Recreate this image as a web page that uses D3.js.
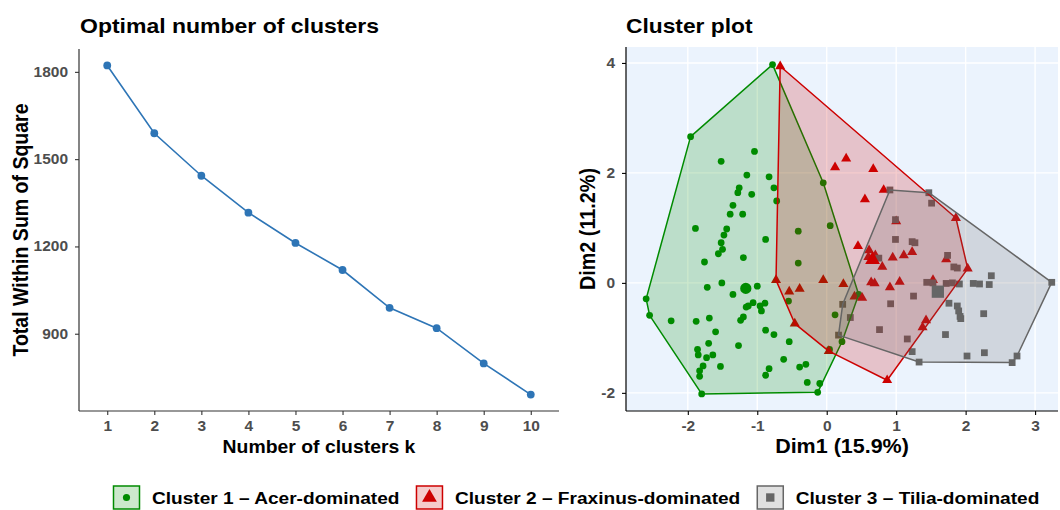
<!DOCTYPE html>
<html>
<head>
<meta charset="utf-8">
<script src="https://cdn.jsdelivr.net/npm/d3@7"></script>
<style>
  body { margin: 0; background: #fff; }
  svg { display: block; font-family: "Liberation Sans", Arial, sans-serif; }
</style>
</head>
<body>
<div id="chart"></div>
<script>
// ---- elbow plot data
var kValues = [1, 2, 3, 4, 5, 6, 7, 8, 9, 10];
var wss = [1822, 1589, 1443, 1316, 1212, 1119, 989, 919, 798, 691];
var wssTicks = [900, 1200, 1500, 1800];

// ---- cluster plot data (Dim1, Dim2)
var clusterNames = ["Cluster 1 \u2013 Acer-dominated", "Cluster 2 \u2013 Fraxinus-dominated", "Cluster 3 \u2013 Tilia-dominated"];
var dim1Ticks = [-2, -1, 0, 1, 2, 3];
var dim2Ticks = [-2, 0, 2, 4];

var cluster1 = [
  [-0.78,3.97],[-1.96,2.66],[-2.60,-0.29],[-2.55,-0.59],[-1.80,-2.02],[-0.13,-1.99],[-0.10,-1.83],
  [0.04,-1.21],[0.22,-1.07],[0.46,-0.21],[-0.05,1.82],
  [-1.04,2.39],[-1.52,2.21],[-1.15,1.96],[-0.83,1.93],[-1.26,1.73],[-1.28,1.64],[-1.08,1.61],
  [-0.76,1.73],[-0.72,1.49],[-1.35,1.41],[-1.39,1.25],[-1.21,1.25],[-1.89,0.99],[-1.44,0.98],
  [-1.48,0.87],[-0.88,0.79],[-1.52,0.73],[-1.50,0.61],[-1.56,0.53],[-1.76,0.38],[-1.20,0.46],
  [-0.41,0.94],[-0.41,0.36],[0.05,1.04],[-1.51,0.00],[-1.72,-0.08],[-1.00,-0.06],[-1.35,-0.21],
  [-1.06,-0.36],[-0.89,-0.37],[-1.13,-0.42],[-0.96,-0.42],[-0.94,-0.51],[-1.16,-0.44],[-1.20,-0.62],
  [-1.24,-0.68],[-0.55,-0.33],[0.12,-0.58],[-2.24,-0.69],[-1.88,-0.70],[-1.69,-0.64],[-1.60,-0.89],
  [-1.70,-1.10],[-1.86,-1.21],[-1.85,-1.31],[-1.73,-1.36],[-1.64,-1.31],[-1.78,-1.51],[-1.83,-1.60],
  [-1.83,-1.70],[-1.53,-1.52],[-1.27,-1.14],[-0.88,-0.86],[-0.76,-0.94],[-0.54,-1.07],[-0.62,-1.39],
  [-0.83,-1.56],[-0.88,-1.68],[-0.39,-1.53],[-0.30,-1.48],[-0.28,-1.81]
];
var cluster2 = [
  [-0.67,3.94],[1.86,1.18],[2.03,0.26],[1.43,-0.68],[1.38,-0.81],[0.87,-1.77],[0.03,-1.24],
  [-0.46,-0.74],[-0.73,0.05],
  [0.28,2.26],[0.12,2.10],[0.67,2.07],[0.82,1.69],[0.55,1.52],[1.00,1.12],[0.45,0.67],[0.61,0.59],
  [0.80,0.29],[0.95,0.46],[1.11,0.50],[1.23,0.56],[1.72,0.43],[1.53,0.05],[1.05,0.02],[0.91,-0.08],
  [0.64,0.01],[0.69,-0.01],[0.24,-0.02],[-0.05,0.05],[-0.39,-0.11],[-0.54,-0.16],[0.51,-0.27],
  [0.40,-0.25],[0.60,0.47],[0.70,0.50]
];
var cluster3 = [
  [0.91,1.69],[1.47,1.64],[3.24,0.01],[2.74,-1.33],[2.67,-1.45],[1.33,-1.44],[0.17,-0.95],[0.23,-0.39],
  [1.51,1.45],[0.99,1.15],[0.99,0.79],[1.23,0.75],[1.27,0.73],[0.75,0.45],[1.74,0.50],[1.83,0.29],
  [1.88,0.27],[1.44,0.01],[1.53,0.00],[1.72,-0.01],[1.81,0.00],[1.91,-0.02],[2.11,-0.01],[2.20,-0.02],
  [2.34,-0.03],[2.37,0.13],[1.25,-0.24],[0.92,-0.38],[1.76,-0.37],[1.88,-0.42],[1.90,-0.51],[1.92,-0.61],
  [1.93,-0.65],[2.26,-0.56],[0.34,-0.63],[0.76,-0.85],[1.71,-0.94],[1.16,-1.02],[1.23,-1.25],[2.02,-1.33],
  [2.27,-1.27]
];
var centers = [[-1.165, -0.10], [0.66, 0.42], [1.60, -0.16]];

var clusters = [cluster1, cluster2, cluster3];
var colors = ["#008B00", "#CD0000", "#666666"];
var shapes = [d3.symbolCircle, d3.symbolTriangle, d3.symbolSquare];
var pointSize = [36, 44, 46];
var centerSize = [100, 95, 150];

var W = 1060, H = 510;
var K = 0.9; // text is a bit flattened in the picture

var svg = d3.select("#chart").append("svg")
  .attr("width", W)
  .attr("height", H);

// text helper
function label(g, x, y, s, size, weight, anchor, rotate) {
  return g.append("text")
    .attr("transform", "translate(" + x + "," + y + ") scale(1," + K + ")" + (rotate ? " rotate(-90)" : ""))
    .attr("text-anchor", anchor || "start")
    .style("font-size", size + "px")
    .style("font-weight", weight)
    .style("fill", "#000")
    .text(s);
}

function styleAxis(g, color, side) {
  g.select(".domain").attr("stroke", color).attr("stroke-width", 1.2);
  g.selectAll(".tick line").attr("stroke", color).attr("stroke-width", 1.1);
  g.selectAll(".tick text")
    .style("font-size", "15.5px")
    .style("font-weight", "bold")
    .style("fill", "#4d4d4d")
    .attr("transform", "scale(1," + K + ")");
  if (side == "bottom") g.selectAll(".tick text").attr("y", 10 / K).attr("dy", "0.71em");
}

var plain = function(d) { return String(d); };

// ================= left: optimal number of clusters
var L = {x0: 79, x1: 559, y0: 49, y1: 411};

var xk = d3.scalePoint()
  .domain(kValues)
  .range([L.x0, L.x1])
  .padding(0.6);

var ext = d3.extent(wss), pad = (ext[1] - ext[0]) * 0.05;
var yw = d3.scaleLinear()
  .domain([ext[0] - pad, ext[1] + pad])
  .range([L.y1, L.y0]);

var left = svg.append("g");

var gxk = left.append("g")
  .attr("transform", "translate(0," + L.y1 + ")")
  .call(d3.axisBottom(xk).tickSizeOuter(0).tickSize(4).tickPadding(6));
gxk.select(".domain").attr("d", "M" + L.x0 + ",0H" + L.x1);
styleAxis(gxk, "#333", "bottom");

var gyw = left.append("g")
  .attr("transform", "translate(" + L.x0 + ",0)")
  .call(d3.axisLeft(yw).tickValues(wssTicks).tickFormat(plain).tickSizeOuter(0).tickSize(4).tickPadding(7));
gyw.select(".domain").attr("d", "M0," + L.y0 + "V" + L.y1);
styleAxis(gyw, "#333", "left");

var elbow = d3.line()
  .x(function(d, i) { return xk(kValues[i]); })
  .y(function(d) { return yw(d); });

left.append("path")
  .datum(wss)
  .attr("d", elbow)
  .attr("fill", "none")
  .attr("stroke", "#2E75B6")
  .attr("stroke-width", 1.6);

left.selectAll("circle.k")
  .data(wss)
  .enter()
  .append("circle")
    .attr("class", "k")
    .attr("cx", function(d, i) { return xk(kValues[i]); })
    .attr("cy", function(d) { return yw(d); })
    .attr("r", 3.9)
    .attr("fill", "#2E75B6");

label(left, 80, 33, "Optimal number of clusters", 23, "bold");
label(left, (L.x0 + L.x1) / 2, 453, "Number of clusters k", 19.4, "bold", "middle");
label(left, 28, (L.y0 + L.y1) / 2, "Total Within Sum of Square", 21.7, "bold", "middle", true);

// ================= right: cluster plot
var R = {x0: 626, x1: 1058, y0: 47, y1: 411};

var xd = d3.scaleLinear().domain([-2.89, 3.33]).range([R.x0, R.x1]);
var yd = d3.scaleLinear().domain([-2.33, 4.29]).range([R.y1, R.y0]);

var right = svg.append("g");

right.append("rect")
  .attr("x", R.x0).attr("y", R.y0)
  .attr("width", R.x1 - R.x0).attr("height", R.y1 - R.y0)
  .attr("fill", "#EBF3FD");

right.selectAll("line.vg")
  .data(dim1Ticks)
  .enter()
  .append("line")
    .attr("x1", function(d) { return xd(d); })
    .attr("x2", function(d) { return xd(d); })
    .attr("y1", R.y0).attr("y2", R.y1)
    .attr("stroke", "#fff").attr("stroke-width", 1.4);

right.selectAll("line.hg")
  .data(dim2Ticks)
  .enter()
  .append("line")
    .attr("y1", function(d) { return yd(d); })
    .attr("y2", function(d) { return yd(d); })
    .attr("x1", R.x0).attr("x2", R.x1)
    .attr("stroke", "#fff").attr("stroke-width", 1.4);

// points first, hulls drawn over them
clusters.forEach(function(pts, c) {
  right.selectAll("path.p" + c)
    .data(pts)
    .enter()
    .append("path")
      .attr("class", "p" + c)
      .attr("d", d3.symbol().type(shapes[c]).size(pointSize[c]))
      .attr("transform", function(d) { return "translate(" + xd(d[0]) + "," + yd(d[1]) + ")"; })
      .attr("fill", colors[c]);
});

clusters.forEach(function(pts, c) {
  var hull = d3.polygonHull(pts.map(function(d) { return [xd(d[0]), yd(d[1])]; }));
  right.append("path")
    .attr("d", "M" + hull.join("L") + "Z")
    .attr("fill", colors[c])
    .attr("fill-opacity", 0.2)
    .attr("stroke", colors[c])
    .attr("stroke-width", 1.5)
    .attr("stroke-linejoin", "round");
});

right.selectAll("path.center")
  .data(centers)
  .enter()
  .append("path")
    .attr("class", "center")
    .attr("d", function(d, i) { return d3.symbol().type(shapes[i]).size(centerSize[i])(); })
    .attr("transform", function(d) { return "translate(" + xd(d[0]) + "," + yd(d[1]) + ")"; })
    .attr("fill", function(d, i) { return colors[i]; });

var gxd = right.append("g")
  .attr("transform", "translate(0," + R.y1 + ")")
  .call(d3.axisBottom(xd).tickValues(dim1Ticks).tickFormat(plain).tickSizeOuter(0).tickSize(4).tickPadding(6));
gxd.select(".domain").attr("d", "M" + R.x0 + ",0H" + R.x1);
styleAxis(gxd, "#000", "bottom");

var gyd = right.append("g")
  .attr("transform", "translate(" + R.x0 + ",0)")
  .call(d3.axisLeft(yd).tickValues(dim2Ticks).tickFormat(plain).tickSizeOuter(0).tickSize(4).tickPadding(7));
gyd.select(".domain").attr("d", "M0," + R.y0 + "V" + R.y1);
styleAxis(gyd, "#000", "left");

label(right, 626, 33, "Cluster plot", 22.8, "bold");
label(right, 842, 453, "Dim1 (15.9%)", 21.5, "bold", "middle");
label(right, 595, (R.y0 + R.y1) / 2, "Dim2 (11.2%)", 22, "bold", "middle", true);

// ================= legend
var legend = svg.append("g");
var lx = 113.5, ly = 486;
clusterNames.forEach(function(name, i) {
  legend.append("rect")
    .attr("x", lx).attr("y", ly)
    .attr("width", 26).attr("height", 23)
    .attr("fill", colors[i]).attr("fill-opacity", 0.2)
    .attr("stroke", colors[i]).attr("stroke-width", 1.5);
  legend.append("path")
    .attr("d", d3.symbol().type(shapes[i]).size([40, 95, 70][i])())
    .attr("transform", "translate(" + (lx + 13) + "," + (ly + 11.5) + ")")
    .attr("fill", colors[i]);
  var t = label(legend, lx + 38.5, 504, name, 19.1, "bold");
  lx += 38.5 + t.node().getComputedTextLength() + 17;
});
</script>
</body>
</html>
